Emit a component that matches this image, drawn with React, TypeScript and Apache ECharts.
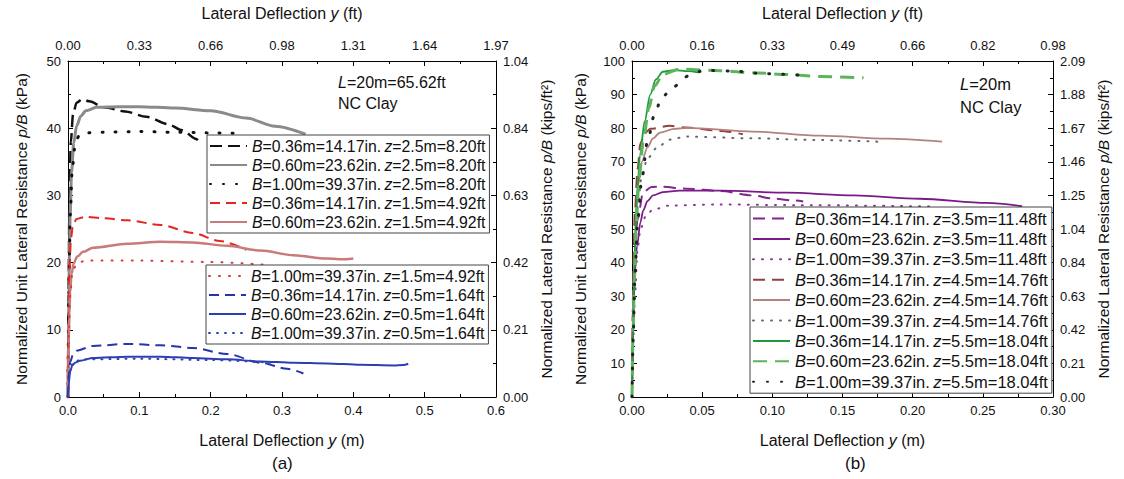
import React, { useEffect, useRef } from "react";
import * as echarts from "echarts";

const FONT = "'Liberation Sans', Arial, Helvetica, sans-serif";

// ---- (a) L = 20 m, NC clay: p/B (kPa) vs lateral deflection y (m)
const aB036z25 = [[0, 0], [0.001, 18], [0.002, 30], [0.004, 38], [0.007, 42], [0.012, 43.8], [0.02, 44.3], [0.03, 44], [0.05, 43.1], [0.08, 42.5], [0.11, 41.7], [0.14, 40.6], [0.16, 39.7], [0.18, 38.4], [0.185, 37.6]];
const aB060z25 = [[0, 0], [0.001, 12], [0.002, 21], [0.003, 27], [0.005, 33.5], [0.008, 37.8], [0.012, 40.3], [0.018, 41.8], [0.025, 42.6], [0.04, 43.1], [0.07, 43.2], [0.1, 43.2], [0.15, 43], [0.2, 42.6], [0.25, 41.5], [0.29, 40.3], [0.333, 39.1]];
const aB100z25 = [[0, 0], [0.001, 14], [0.003, 27], [0.006, 34], [0.01, 37.5], [0.015, 38.8], [0.025, 39.3], [0.05, 39.4], [0.1, 39.5], [0.15, 39.4], [0.2, 39.3], [0.245, 39.2]];
const aB036z15 = [[0, 0], [0.001, 12], [0.002, 19], [0.004, 23.5], [0.007, 25.6], [0.012, 26.5], [0.024, 26.8], [0.05, 26.6], [0.083, 26.3], [0.13, 25.6], [0.175, 24.4], [0.213, 23.2], [0.25, 21.9]];
const aB060z15 = [[0, 0], [0.001, 8], [0.002, 12.5], [0.003, 15.5], [0.005, 18.3], [0.008, 19.9], [0.013, 20.9], [0.021, 21.6], [0.035, 22.2], [0.083, 22.8], [0.13, 23.1], [0.175, 23], [0.223, 22.5], [0.27, 21.8], [0.316, 21.1], [0.363, 20.6], [0.39, 20.5], [0.4, 20.6]];
const aB100z15 = [[0, 0], [0.001, 9], [0.003, 15], [0.006, 18.5], [0.012, 19.8], [0.024, 20.3], [0.1, 20.3], [0.2, 20.1], [0.273, 19.7]];
const aB036z05 = [[0, 0], [0.001, 3], [0.003, 5.2], [0.007, 6.3], [0.012, 6.9], [0.035, 7.6], [0.083, 7.9], [0.13, 7.7], [0.175, 7.3], [0.223, 6.4], [0.27, 5.1], [0.307, 4.2], [0.33, 3.5]];
const aB060z05 = [[0, 0], [0.001, 2], [0.003, 3.8], [0.006, 4.7], [0.01, 5.1], [0.017, 5.4], [0.035, 5.8], [0.083, 6], [0.13, 6], [0.175, 5.8], [0.223, 5.6], [0.27, 5.3], [0.316, 5.1], [0.363, 5], [0.41, 4.8], [0.456, 4.7], [0.47, 4.75], [0.477, 4.95]];
const aB100z05 = [[0, 0], [0.002, 3.5], [0.006, 4.9], [0.012, 5.4], [0.021, 5.6], [0.1, 5.7], [0.2, 5.5], [0.287, 5.1]];

// ---- (b) L = 20 m, NC clay, deeper layers
const bB036z35 = [[0, 0], [0.0005, 20], [0.001, 33], [0.002, 44], [0.004, 53], [0.008, 61], [0.014, 62.5], [0.02, 62.6], [0.039, 62], [0.063, 61.3], [0.086, 60], [0.1, 59.1], [0.115, 58.5], [0.122, 58.2]];
const bB060z35 = [[0, 0], [0.0005, 14], [0.001, 24], [0.002, 37], [0.0036, 45], [0.006, 52], [0.008, 55.5], [0.011, 58.3], [0.015, 60], [0.022, 61], [0.034, 61.4], [0.063, 61.4], [0.11, 60.8], [0.158, 60], [0.205, 59], [0.253, 57.8], [0.278, 56.8]];
const bB100z35 = [[0, 0], [0.001, 18], [0.002, 30], [0.004, 44], [0.006, 50], [0.01, 54], [0.015, 55.8], [0.027, 57], [0.06, 57.3], [0.12, 57.1], [0.212, 56.7]];
const bB036z45 = [[0, 0], [0.0005, 25], [0.001, 40], [0.002, 55], [0.004, 68], [0.006, 75.5], [0.009, 78.5], [0.013, 79.8], [0.027, 80.7], [0.039, 80.2], [0.063, 79.2], [0.079, 78.2]];
const bB060z45 = [[0, 0], [0.0005, 18], [0.001, 30], [0.002, 45], [0.003, 55], [0.0043, 63], [0.007, 70], [0.011, 74.3], [0.015, 77], [0.02, 78.7], [0.03, 79.8], [0.039, 80.1], [0.086, 79], [0.134, 77.8], [0.182, 76.9], [0.221, 76]];
const bB100z45 = [[0, 0], [0.001, 25], [0.002, 42], [0.004, 57], [0.007, 66], [0.011, 71], [0.018, 74.3], [0.027, 76.6], [0.039, 77.5], [0.086, 77], [0.13, 76.5], [0.175, 76]];
const bB036z55 = [[0, 0], [0.0007, 20], [0.0015, 35], [0.0025, 50], [0.0036, 60.5], [0.0057, 72], [0.009, 82], [0.013, 90], [0.017, 94.5], [0.022, 96.8], [0.03, 97.3], [0.04, 97], [0.047, 96.6]];
const bB060z55 = [[0, 0], [0.0008, 20], [0.0017, 35], [0.003, 52], [0.005, 65], [0.008, 76], [0.012, 86], [0.016, 92.5], [0.022, 96], [0.034, 97.6], [0.063, 97.1], [0.086, 96.5], [0.11, 96], [0.134, 95.4], [0.165, 95]];
const bB100z55 = [[0, 0], [0.001, 20], [0.002, 35], [0.004, 52], [0.007, 65], [0.011, 76], [0.016, 84], [0.021, 89], [0.029, 92.2], [0.04, 95.5], [0.051, 97.2], [0.072, 97], [0.095, 96.2], [0.12, 95.8]];

// legend labels
const legendA1 = [
  "B=0.36m=14.17in. z=2.5m=8.20ft",
  "B=0.60m=23.62in. z=2.5m=8.20ft",
  "B=1.00m=39.37in. z=2.5m=8.20ft",
  "B=0.36m=14.17in. z=1.5m=4.92ft",
  "B=0.60m=23.62in. z=1.5m=4.92ft",
];
const legendA2 = [
  "B=1.00m=39.37in. z=1.5m=4.92ft",
  "B=0.36m=14.17in. z=0.5m=1.64ft",
  "B=0.60m=23.62in. z=0.5m=1.64ft",
  "B=1.00m=39.37in. z=0.5m=1.64ft",
];
const legendB = [
  "B=0.36m=14.17in. z=3.5m=11.48ft",
  "B=0.60m=23.62in. z=3.5m=11.48ft",
  "B=1.00m=39.37in. z=3.5m=11.48ft",
  "B=0.36m=14.17in. z=4.5m=14.76ft",
  "B=0.60m=23.62in. z=4.5m=14.76ft",
  "B=1.00m=39.37in. z=4.5m=14.76ft",
  "B=0.36m=14.17in. z=5.5m=18.04ft",
  "B=0.60m=23.62in. z=5.5m=18.04ft",
  "B=1.00m=39.37in. z=5.5m=18.04ft",
];

const M_TO_FT = 3.28084;
const KPA_TO_KSF = 0.0208854;

function legendFormatter(name: string) {
  const [b, z] = name.split(" ");
  return `{i|B}{n|${b.slice(1)}} {i|z}{n|${z.slice(1)}}`;
}

function legendRich(size: number, lh: number) {
  return {
    n: { fontSize: size, fontFamily: FONT, color: "#111", lineHeight: lh },
    i: { fontSize: size, fontFamily: FONT, color: "#111", fontStyle: "italic", lineHeight: lh },
  };
}

const nameRich = {
  i: { fontStyle: "italic", fontFamily: FONT, fontSize: 16, color: "#111" },
};

function xAxis(grid: number, position: string, max: number, interval: number, digits: number, factor: number, name: string, gap: number) {
  return {
    type: "value",
    gridIndex: grid,
    position,
    min: 0,
    max,
    interval,
    axisLine: { show: true, onZero: false, lineStyle: { color: "#000", width: 1 } },
    axisTick: { show: true, inside: true, length: 5, lineStyle: { color: "#000" } },
    minorTick: { show: true, splitNumber: 2, length: 3, lineStyle: { color: "#000" } },
    splitLine: { show: false },
    axisLabel: {
      margin: position === "top" ? 9 : 7,
      fontSize: 13,
      color: "#111",
      fontFamily: FONT,
      formatter: (v: number) => (v * factor).toFixed(digits),
    },
    name,
    nameLocation: "middle",
    nameGap: gap,
    nameTextStyle: { fontSize: 16, fontFamily: FONT, color: "#111", rich: nameRich },
  };
}

function yAxis(grid: number, position: string, max: number, digits: number, factor: number, name: string, gap: number) {
  return {
    type: "value",
    gridIndex: grid,
    position,
    min: 0,
    max,
    interval: 10,
    axisLine: { show: true, onZero: false, lineStyle: { color: "#000", width: 1 } },
    axisTick: { show: true, inside: true, length: 5, lineStyle: { color: "#000" } },
    minorTick: { show: true, splitNumber: 2, length: 3, lineStyle: { color: "#000" } },
    splitLine: { show: false },
    axisLabel: {
      margin: 7,
      fontSize: 13,
      color: "#111",
      fontFamily: FONT,
      formatter: (v: number) => (v * factor).toFixed(digits),
    },
    name,
    nameLocation: "middle",
    nameRotate: 90,
    nameGap: gap,
    nameTextStyle: { fontSize: 15.5, fontFamily: FONT, color: "#111", rich: { i: { ...nameRich.i, fontSize: 15.5 } } },
  };
}

function curve(name: string, data: number[][], axis: number, color: string, width: number, dash: any, cap = "butt") {
  return {
    type: "line",
    name,
    data,
    xAxisIndex: axis,
    yAxisIndex: axis,
    symbol: "none",
    showSymbol: false,
    smooth: 0.3,
    smoothMonotone: "x",
    silent: true,
    lineStyle: { color, width, type: dash, cap },
    itemStyle: { color },
    emphasis: { disabled: true },
  };
}

export default function App() {
  const ref = useRef<HTMLDivElement>(null);

  useEffect(() => {
    if (!ref.current) return;
    const chart = echarts.init(ref.current, undefined, { renderer: "svg" });

    const series = [
      curve(legendA1[0], aB036z25, 0, "#111", 2.5, [12, 6]),
      curve(legendA1[1], aB060z25, 0, "#8a8a8a", 3, "solid"),
      curve(legendA1[2], aB100z25, 0, "#111", 3, [1, 12], "round"),
      curve(legendA1[3], aB036z15, 0, "#e5261f", 2, [10, 6]),
      curve(legendA1[4], aB060z15, 0, "#c97a7a", 2.5, "solid"),
      curve(legendA2[0], aB100z15, 0, "#d93a3a", 2, [1, 9], "round"),
      curve(legendA2[1], aB036z05, 0, "#2536a8", 2, [10, 6]),
      curve(legendA2[2], aB060z05, 0, "#2d3fb0", 2, "solid"),
      curve(legendA2[3], aB100z05, 0, "#3444b5", 2, [1, 7], "round"),

      curve(legendB[0], bB036z35, 1, "#80298c", 2, [12, 7]),
      curve(legendB[1], bB060z35, 1, "#7a1a88", 1.8, "solid"),
      curve(legendB[2], bB100z35, 1, "#8b3696", 2, [1, 8], "round"),
      curve(legendB[3], bB036z45, 1, "#93403f", 2, [12, 7]),
      curve(legendB[4], bB060z45, 1, "#b48080", 1.8, "solid"),
      curve(legendB[5], bB100z45, 1, "#666666", 2, [1, 8], "round"),
      curve(legendB[6], bB036z55, 1, "#1c9b3a", 1.8, "solid"),
      curve(legendB[7], bB060z55, 1, "#5cb55c", 3, [14, 8]),
      curve(legendB[8], bB100z55, 1, "#222222", 3, [1, 13], "round"),
    ];

    const legendBase = {
      orient: "vertical",
      selectedMode: false,
      backgroundColor: "#fff",
      borderColor: "#444",
      borderWidth: 1,
      itemWidth: 37,
      itemHeight: 14,
      // only the line sample is shown, no marker in its middle
      itemStyle: { opacity: 0, borderWidth: 0 },
      formatter: legendFormatter,
    };

    chart.setOption({
      animation: false,
      backgroundColor: "#fff",
      grid: [
        { left: 68, top: 55, width: 428, height: 342 },
        { left: 632, top: 55, width: 421, height: 342 },
      ],
      xAxis: [
        xAxis(0, "bottom", 0.6, 0.1, 1, 1, "Lateral Deflection {i|y} (m)", 35),
        xAxis(1, "bottom", 0.3, 0.05, 2, 1, "Lateral Deflection {i|y} (m)", 35),
        xAxis(0, "top", 0.6, 0.1, 2, M_TO_FT, "Lateral Deflection {i|y} (ft)", 40),
        xAxis(1, "top", 0.3, 0.05, 2, M_TO_FT, "Lateral Deflection {i|y} (ft)", 40),
      ],
      yAxis: [
        yAxis(0, "left", 50, 0, 1, "Normalized Unit Lateral Resistance {i|p/B} (kPa)", 39),
        yAxis(1, "left", 100, 0, 1, "Normalized Unit Lateral Resistance {i|p/B} (kPa)", 44),
        yAxis(0, "right", 50, 2, KPA_TO_KSF, "Normalized Lateral Resistance {i|p/B} (kips/ft²)", 42),
        yAxis(1, "right", 100, 2, KPA_TO_KSF, "Normalized Lateral Resistance {i|p/B} (kips/ft²)", 42),
      ],
      legend: [
        {
          ...legendBase,
          data: legendA1,
          left: 207,
          top: 135,
          padding: [3, 4, 3, 2],
          itemGap: 3,
          textStyle: { rich: legendRich(15.8, 16) },
        },
        {
          ...legendBase,
          data: legendA2,
          left: 206,
          top: 265,
          padding: [3, 4, 3, 2],
          itemGap: 3,
          textStyle: { rich: legendRich(15.8, 16) },
        },
        {
          ...legendBase,
          data: legendB,
          left: 750,
          top: 207,
          padding: [3, 4, 3, 2],
          itemGap: 3.4,
          textStyle: { rich: legendRich(16.5, 17) },
        },
      ],
      graphic: [
        {
          type: "text",
          left: 338,
          top: 74,
          style: {
            text: "{i|L}{n|=20m=65.62ft}\n{n|NC Clay}",
            rich: {
              i: { fontStyle: "italic", fontSize: 16, fontFamily: FONT, fill: "#111", lineHeight: 21 },
              n: { fontSize: 16, fontFamily: FONT, fill: "#111", lineHeight: 21 },
            },
          },
        },
        {
          type: "text",
          left: 960,
          top: 75,
          style: {
            text: "{i|L}{n|=20m}\n{n|NC Clay}",
            rich: {
              i: { fontStyle: "italic", fontSize: 16.5, fontFamily: FONT, fill: "#111", lineHeight: 23 },
              n: { fontSize: 16.5, fontFamily: FONT, fill: "#111", lineHeight: 23 },
            },
          },
        },
        {
          type: "text",
          left: 272,
          top: 455,
          style: { text: "(a)", fontSize: 17, fontFamily: FONT, fill: "#111" },
        },
        {
          type: "text",
          left: 845,
          top: 455,
          style: { text: "(b)", fontSize: 17, fontFamily: FONT, fill: "#111" },
        },
      ],
      series,
    });

    return () => chart.dispose();
  }, []);

  return (
    <div
      ref={ref}
      style={{ position: "fixed", left: 0, top: 0, width: 1124, height: 479, background: "#fff" }}
    />
  );
}
